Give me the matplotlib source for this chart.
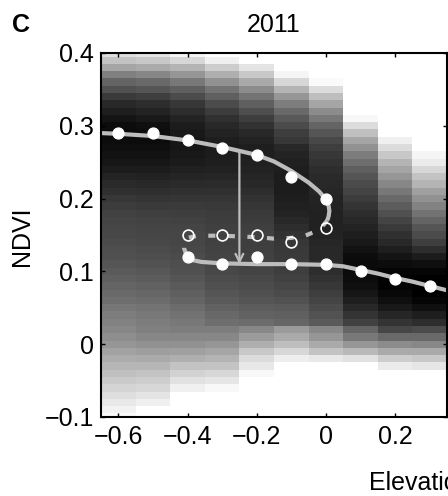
import numpy as np
import matplotlib
matplotlib.use("Agg")
import matplotlib.pyplot as plt

plt.rcParams['font.family'] = ['Liberation Sans', 'DejaVu Sans']

# heat map: elevation bins (column centres) and NDVI rows (row centres)
elev_bins = [-0.6, -0.5, -0.4, -0.3, -0.2, -0.1, 0.0, 0.1, 0.2, 0.3]
ndvi_rows = [round(0.40 - 0.01 * i, 2) for i in range(51)]   # 0.40 -> -0.10

# grey level per cell (0 = black, 255 = white), listed top (0.40) to bottom (-0.10)
shade_m06 = [222, 195, 165, 128, 100, 80, 58, 40, 30, 20, 12, 10, 12,
             15, 18, 22, 28, 35, 42, 48, 55, 60, 65, 68, 70, 72,
             75, 78, 80, 85, 90, 95, 100, 105, 110, 118, 125, 130,
             135, 142, 150, 162, 172, 182, 192, 202, 212, 222, 232, 242, 250]
shade_m05 = [228, 200, 170, 135, 105, 85, 62, 45, 35, 25, 15, 12, 12,
             15, 18, 22, 28, 34, 40, 46, 52, 58, 63, 66, 68, 70,
             72, 75, 78, 82, 87, 92, 97, 102, 108, 115, 120, 125,
             128, 135, 145, 158, 170, 182, 195, 205, 215, 228, 240, 255, 255]
shade_m04 = [245, 215, 180, 150, 120, 95, 75, 55, 45, 35, 28, 25, 22,
             22, 24, 27, 32, 37, 42, 48, 53, 58, 62, 65, 68, 70,
             70, 72, 75, 78, 80, 85, 90, 95, 100, 108, 114, 120,
             125, 135, 145, 160, 175, 195, 210, 225, 240, 255, 255, 255, 255]
shade_m03 = [255, 240, 205, 175, 145, 115, 95, 75, 60, 48, 40, 35, 30,
             28, 28, 30, 33, 38, 43, 48, 53, 57, 60, 62, 64, 65,
             65, 66, 68, 70, 72, 76, 80, 85, 90, 97, 104, 110,
             125, 135, 150, 165, 180, 195, 215, 230, 248, 255, 255, 255, 255]
shade_m02 = [255, 255, 228, 200, 170, 140, 115, 95, 78, 62, 50, 40, 35,
             30, 30, 32, 34, 37, 40, 45, 50, 54, 58, 60, 63, 65,
             62, 63, 65, 66, 68, 72, 76, 80, 85, 92, 98, 108,
             135, 155, 175, 200, 220, 232, 248, 255, 255, 255, 255, 255, 255]
shade_m01 = [255, 255, 255, 245, 215, 180, 150, 125, 105, 88, 75, 62, 55,
             40, 35, 32, 30, 28, 28, 28, 30, 32, 35, 40, 45, 50,
             55, 57, 58, 60, 62, 65, 70, 75, 82, 90, 96, 102,
             155, 170, 190, 215, 238, 255, 255, 255, 255, 255, 255, 255, 255]
shade_p00 = [255, 255, 255, 255, 250, 220, 190, 165, 140, 120, 100, 85, 72,
             62, 55, 50, 45, 42, 40, 38, 35, 34, 33, 33, 33, 35,
             38, 40, 40, 43, 45, 50, 55, 62, 68, 75, 82, 90,
             135, 150, 170, 195, 232, 255, 255, 255, 255, 255, 255, 255, 255]
shade_p01 = [255, 255, 255, 255, 255, 255, 255, 255, 255, 248, 220, 192, 165,
             145, 125, 110, 95, 85, 75, 68, 60, 52, 45, 40, 35, 30,
             25, 18, 12, 10, 10, 12, 15, 22, 30, 40, 52, 65,
             100, 120, 150, 185, 225, 255, 255, 255, 255, 255, 255, 255, 255]
shade_p02 = [255, 255, 255, 255, 255, 255, 255, 255, 255, 255, 255, 255, 240,
             220, 200, 180, 165, 150, 135, 120, 105, 92, 80, 68, 58, 48,
             40, 30, 20, 12, 5, 3, 3, 8, 15, 25, 38, 52,
             70, 105, 140, 170, 205, 235, 255, 255, 255, 255, 255, 255, 255]
shade_p03 = [255, 255, 255, 255, 255, 255, 255, 255, 255, 255, 255, 255, 255,
             255, 245, 235, 215, 195, 180, 160, 145, 130, 115, 100, 85, 75,
             62, 45, 28, 15, 5, 0, 0, 0, 5, 15, 30, 45,
             75, 105, 135, 170, 200, 230, 255, 255, 255, 255, 255, 255, 255]

# equilibrium curve (fold)
upper_x = [-0.65, -0.6, -0.5, -0.4, -0.3, -0.2, -0.15, -0.1, -0.05, -0.02, 0.0, 0.008, 0.01, 0.008, 0.004]
upper_y = [0.290, 0.289, 0.286, 0.280, 0.271, 0.260, 0.251, 0.238, 0.222, 0.210, 0.199, 0.190, 0.183, 0.176, 0.170]
middle_x = [0.004, -0.01, -0.03, -0.06, -0.1, -0.15, -0.2, -0.3, -0.37, -0.40, -0.41, -0.41, -0.405]
middle_y = [0.170, 0.162, 0.155, 0.149, 0.146, 0.145, 0.147, 0.149, 0.149, 0.146, 0.140, 0.132, 0.125]
lower_x = [-0.405, -0.39, -0.36, -0.3, -0.2, -0.1, 0.0, 0.05, 0.1, 0.15, 0.2, 0.25, 0.3, 0.35]
lower_y = [0.125, 0.116, 0.113, 0.111, 0.110, 0.110, 0.109, 0.107, 0.102, 0.097, 0.091, 0.086, 0.080, 0.074]

# modes (white dots) and anti-modes (open circles)
stable_x = [-0.6, -0.5, -0.4, -0.3, -0.2, -0.1, 0.0, -0.4, -0.3, -0.2, -0.1, 0.0, 0.1, 0.2, 0.3]
stable_y = [0.29, 0.29, 0.28, 0.27, 0.26, 0.23, 0.20, 0.12, 0.11, 0.12, 0.11, 0.11, 0.10, 0.09, 0.08]
unstable_x = [-0.4, -0.3, -0.2, -0.1, 0.0]
unstable_y = [0.15, 0.15, 0.15, 0.14, 0.16]

# shift arrow
arrow_x = -0.25
arrow_from = 0.265
arrow_to = 0.11

xticks = [-0.6, -0.4, -0.2, 0.0, 0.2]
xtick_labels = ['\u22120.6', '\u22120.4', '\u22120.2', '0', '0.2']
yticks = [-0.1, 0.0, 0.1, 0.2, 0.3, 0.4]
ytick_labels = ['\u22120.1', '0', '0.1', '0.2', '0.3', '0.4']

W, H = 448, 496
fig = plt.figure(figsize=(W / 100, H / 100), dpi=100)
ax = fig.add_axes([101 / W, 79 / H, 346 / W, 364 / H])

shades = np.array([shade_m06, shade_m05, shade_m04, shade_m03, shade_m02,
                   shade_m01, shade_p00, shade_p01, shade_p02, shade_p03]).T
ax.pcolormesh(elev_bins, ndvi_rows, shades, shading='nearest',
              cmap='gray', vmin=0, vmax=255)

line_c = '#bdbdbd'
ax.plot(upper_x, upper_y, color=line_c, lw=3, solid_capstyle='butt')
ax.plot(middle_x, middle_y, color=line_c, lw=3, linestyle=(0, (1.7, 3.0)))
ax.plot(lower_x, lower_y, color=line_c, lw=3, solid_capstyle='butt')

ax.annotate('', xy=(arrow_x, arrow_to), xytext=(arrow_x, arrow_from),
            arrowprops=dict(arrowstyle='->', color=line_c, lw=1.6,
                            mutation_scale=14, shrinkA=0, shrinkB=0))

ax.plot(stable_x, stable_y, 'o', color='white', ms=7.8, mec='white')
ax.plot(unstable_x, unstable_y, 'o', mfc='none', mec='white', ms=7.8, mew=1.2)

ax.set_xlim(-0.65, 0.35)
ax.set_ylim(-0.1, 0.4)
ax.set_xticks(xticks)
ax.set_xticklabels(xtick_labels)
ax.set_yticks(yticks)
ax.set_yticklabels(ytick_labels)
ax.tick_params(direction='in', length=3, width=1, top=True, right=True,
               labelsize=18, pad=5)
ax.tick_params(axis='x', pad=6)
for s in ax.spines.values():
    s.set_linewidth(1.5)

ax.set_title('2011', fontsize=18, pad=15)
fig.text(12 / W, 1 - 32 / H, 'C', fontsize=18, fontweight='bold', va='baseline')
fig.text(22 / W, 1 - 236 / H, 'NDVI', fontsize=18, rotation=90, ha='center', va='center')
# shared x label of the full multi-panel figure; cut at the right edge as in the original
fig.text(369 / W, 1 - 483 / H, 'Elevation', fontsize=18, ha='left', va='center')

fig.savefig('out.png', dpi=100)
